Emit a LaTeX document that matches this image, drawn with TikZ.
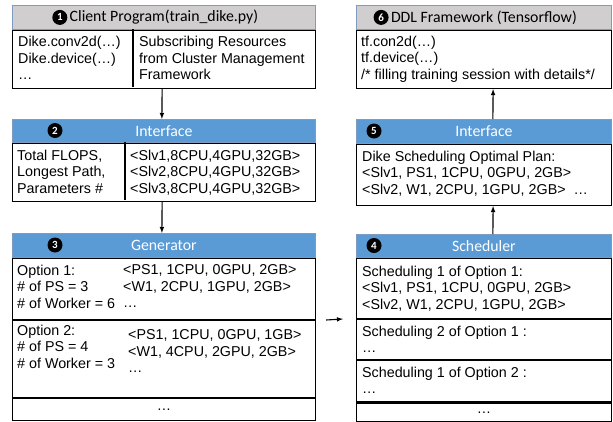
\documentclass[tikz,border=0pt]{standalone}
\usepackage{fontspec}
\setmainfont{Liberation Sans}
\newfontfamily\calib{Carlito}
\usetikzlibrary{shapes,arrows}
\usetikzlibrary{calc,positioning}
\definecolor{hdblue}{HTML}{5B9BD5}
\definecolor{hdgray}{HTML}{D0CECE}
\definecolor{hdedge}{HTML}{7F9CC0}
\tikzstyle{line} = [draw, line width=1.1pt, -latex]
\tikzstyle{frame} = [draw, line width=1.2pt, inner sep=0pt, anchor=north west]
\tikzstyle{head} = [frame, draw=hdedge, line width=0.8pt]
\tikzstyle{title} = [inner sep=0pt, font=\calib\fontsize{15.8}{16}\selectfont]
\tikzstyle{num} = [circle, fill=black, text=white, inner sep=0pt, minimum size=15pt, font=\calib\bfseries\fontsize{11}{11}\selectfont]
\tikzstyle{txt} = [anchor=north west, align=left, inner sep=0pt, font=\fontsize{14.3}{16.6}\selectfont]

\begin{document}
\begin{tikzpicture}[x=1pt,y=-1pt]

		\useasboundingbox (0,0) rectangle (613,421);

		\node [head, fill=hdgray, minimum width=303pt, minimum height=24pt] (h1) at (12,5) {};
		\node [frame, minimum width=303pt, minimum height=58pt] (b1) at (h1.south west) {};
		\draw [line width=1.2pt] (133,29) -- (133,87);
		\node [title] (t1) at (h1) {Client Program(train\_dike.py)};
		\node [num, left=2pt of t1] (n1) {1};
		\node [txt] (c11) at (18,36) {Dike.conv2d(…)\\Dike.device(…)\\…};
		\node [txt] (c12) at (139,36) {Subscribing Resources\\from Cluster Management\\Framework};

		\node [head, fill=hdblue, minimum width=303pt, minimum height=23pt] (h2) at (12,119) {};
		\node [frame, minimum width=303pt, minimum height=58pt] (b2) at (h2.south west) {};
		\draw [line width=1.2pt] (125,142) -- (125,200);
		\node [title, text=white] (t2) at (h2) {Interface};
		\node [num] (n2) at (55,130.5) {2};
		\node [txt] (c21) at (17,149.5) {Total FLOPS,\\Longest Path,\\Parameters \#};
		\node [txt] (c22) at (130,149.5) {<Slv1,8CPU,4GPU,32GB>\\<Slv2,8CPU,4GPU,32GB>\\<Slv3,8CPU,4GPU,32GB>};

		\node [head, fill=hdblue, minimum width=303pt, minimum height=24pt] (h3) at (12,233) {};
		\node [frame, minimum width=303pt, minimum height=61pt] (s31) at (h3.south west) {};
		\node [frame, minimum width=303pt, minimum height=77pt] (s32) at (s31.south west) {};
		\node [frame, minimum width=303pt, minimum height=22pt] (s33) at (s32.south west) {};
		\node [title, text=white] (t3) at (h3) {Generator};
		\node [num] (n3) at (55,245) {3};
		\node [txt] (c31) at (17,264.5) {Option 1:\\\# of PS = 3\\\# of Worker = 6};
		\node [txt] (c32) at (123,264.5) {<PS1, 1CPU, 0GPU, 2GB>\\<W1, 2CPU, 1GPU, 2GB>\\…};
		\node [txt] (c33) at (17,324.5) {Option 2:\\\# of PS = 4\\\# of Worker = 3};
		\node [txt] (c34) at (128,329.5) {<PS1, 1CPU, 0GPU, 1GB>\\<W1, 4CPU, 2GPU, 2GB>\\…};
		\node [font=\fontsize{14.3}{16.6}\selectfont, inner sep=0pt] (c35) at (s33) {…};

		\node [head, fill=hdgray, minimum width=255pt, minimum height=24pt] (h6) at (356,5) {};
		\node [frame, minimum width=255pt, minimum height=58pt] (b6) at (h6.south west) {};
		\node [title] (t6) at (h6) {DDL Framework (Tensorflow)};
		\node [num, left=2pt of t6] (n6) {6};
		\node [txt] (c61) at (361,35.5) {tf.con2d(…)\\tf.device(…)\\/* filling training session with details*/};

		\node [head, fill=hdblue, minimum width=255pt, minimum height=24pt] (h5) at (356,119) {};
		\node [frame, minimum width=255pt, minimum height=61pt] (b5) at (h5.south west) {};
		\node [title, text=white] (t5) at (h5) {Interface};
		\node [num] (n5) at (374,131) {5};
		\node [txt] (c51) at (362,150.5) {Dike Scheduling Optimal Plan:\\<Slv1, PS1, 1CPU, 0GPU, 2GB>\\<Slv2, W1, 2CPU, 1GPU, 2GB> \ …};

		\node [head, fill=hdblue, minimum width=255pt, minimum height=23pt] (h4) at (356,234) {};
		\node [frame, minimum width=255pt, minimum height=60pt] (s41) at (h4.south west) {};
		\node [frame, minimum width=255pt, minimum height=40pt] (s42) at (s41.south west) {};
		\node [frame, minimum width=255pt, minimum height=41pt] (s43) at (s42.south west) {};
		\node [frame, minimum width=255pt, minimum height=19pt] (s44) at (s43.south west) {};
		\node [title, text=white] (t4) at (h4) {Scheduler};
		\node [num] (n4) at (374,245.5) {4};
		\node [txt] (c41) at (362,265.5) {Scheduling 1 of Option 1:\\<Slv1, PS1, 1CPU, 0GPU, 2GB>\\<Slv2, W1, 2CPU, 1GPU, 2GB>};
		\node [txt] (c42) at (362,325.5) {Scheduling 2 of Option 1 :\\…};
		\node [txt] (c43) at (362,366.5) {Scheduling 1 of Option 2 :\\…};
		\node [font=\fontsize{14.3}{16.6}\selectfont, inner sep=0pt] (c44) at (s44) {…};

		\path [line] ([xshift=-2pt]b1.south) -- ([xshift=-2pt]h2.north);
		\path [line] ([xshift=-2pt]b2.south) -- ([xshift=-2pt]h3.north);
		\path [line] ([xshift=10pt]s31.south east) -- ([xshift=-13pt]s41.south west);
		\path [line] ([xshift=9pt]h4.north) -- ([xshift=9pt]b5.south);
		\path [line] ([xshift=9pt]h5.north) -- ([xshift=9pt]b6.south);

\end{tikzpicture}
\end{document}
